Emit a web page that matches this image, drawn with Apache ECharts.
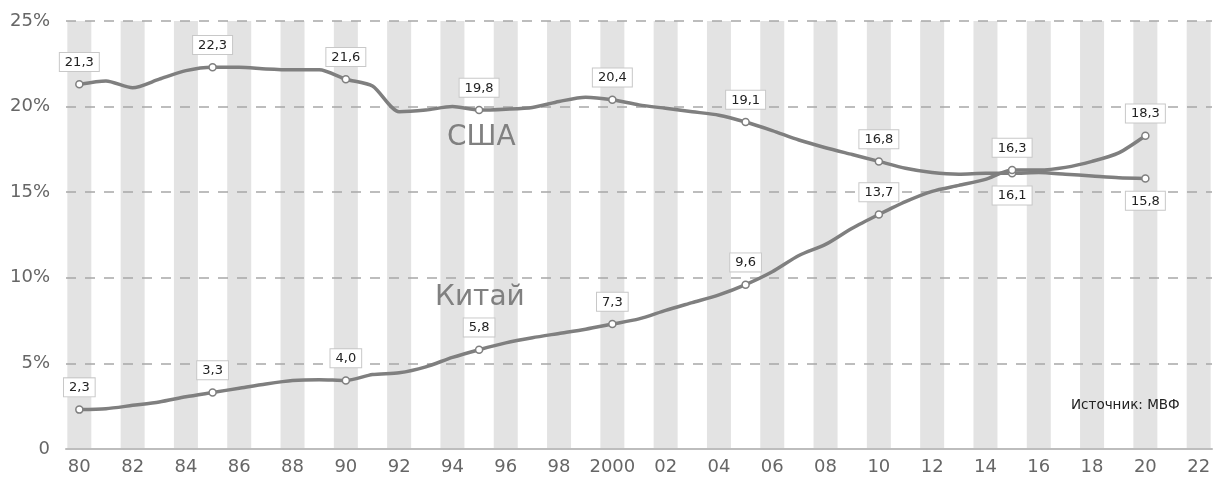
<!DOCTYPE html>
<html>
<head>
<meta charset="utf-8">
<script src="https://cdn.jsdelivr.net/npm/echarts@6/dist/echarts.min.js"></script>
<style>
  html, body { margin: 0; padding: 0; background: #fff; }
  #chart { width: 1214px; height: 477px; }
</style>
</head>
<body>
<div id="chart"></div>
<script>
// years 1980..2022, labels as printed under the axis
const years = ['80', '81', '82', '83', '84', '85', '86', '87', '88', '89',
  '90', '91', '92', '93', '94', '95', '96', '97', '98', '99',
  '2000', '01', '02', '03', '04', '05', '06', '07', '08', '09',
  '10', '11', '12', '13', '14', '15', '16', '17', '18', '19',
  '20', '21', '22']

// share of world GDP (PPP), %, 1980..2020
const usa = [21.3, 21.5, 21.1, 21.6, 22.1, 22.3, 22.3, 22.2, 22.15, 22.15,
  21.6, 21.2, 19.7, 19.8, 20.0, 19.8, 19.85, 19.95, 20.3, 20.55,
  20.4, 20.1, 19.9, 19.7, 19.5, 19.1, 18.6, 18.05, 17.6, 17.2,
  16.8, 16.4, 16.15, 16.05, 16.1, 16.1, 16.15, 16.05, 15.95, 15.85,
  15.8]
const china = [2.3, 2.35, 2.55, 2.75, 3.05, 3.3, 3.55, 3.8, 4.0, 4.05,
  4.0, 4.35, 4.45, 4.8, 5.35, 5.8, 6.2, 6.5, 6.75, 7.0,
  7.3, 7.6, 8.1, 8.55, 9.0, 9.6, 10.35, 11.3, 11.95, 12.9,
  13.7, 14.45, 15.05, 15.4, 15.75, 16.3, 16.3, 16.45, 16.8, 17.3,
  18.3]

// points that carry a boxed value label
const labeledIdx = [0, 5, 10, 15, 20, 25, 30, 35, 40]
const usaBelow = [35, 40]

const LINE = '#7f7f7f'
const FONT = 'DejaVu Sans'

function fmt (v) {
  return v.toFixed(1).replace('.', ',')
}

function points (values, below) {
  return values.map((v, i) => {
    if (labeledIdx.indexOf(i) < 0) return { value: v, symbolSize: 0 }
    return {
      value: v,
      symbolSize: 7,
      label: {
        show: true,
        position: below.indexOf(i) >= 0 ? 'bottom' : 'top',
        distance: 9
      }
    }
  })
}

const labelBox = {
  show: false,
  formatter: p => fmt(p.value),
  fontFamily: FONT,
  fontSize: 13,
  color: '#222',
  backgroundColor: '#fff',
  borderColor: '#c8c8c8',
  borderWidth: 1,
  padding: [3, 5, 2, 5]
}

// gray stripe behind every even year
const stripes = years.map((y, i) => (i % 2 === 0 ? 25 : '-'))

const chart = echarts.init(document.getElementById('chart'))
chart.setOption({
  animation: false,
  textStyle: { fontFamily: FONT },
  grid: { left: 66, right: 2, top: 21, bottom: 28 },
  xAxis: {
    type: 'category',
    data: years,
    boundaryGap: true,
    axisLine: { lineStyle: { color: '#bdbdbd', width: 2 } },
    axisTick: { show: false },
    axisLabel: {
      interval: 1,
      color: '#666',
      fontSize: 18,
      margin: 9
    }
  },
  yAxis: {
    type: 'value',
    min: 0,
    max: 25,
    interval: 5,
    axisLine: { show: false },
    axisTick: { show: false },
    axisLabel: {
      color: '#666',
      fontSize: 18,
      margin: 16,
      formatter: v => (v === 0 ? '0' : v + '%')
    },
    splitLine: {
      lineStyle: { color: '#a8a8a8', width: 1.5, type: [10, 9] }
    }
  },
  graphic: [
    {
      type: 'text',
      left: 447,
      top: 124,
      style: { text: 'США', font: '28px "DejaVu Sans"', fill: '#808080' }
    },
    {
      type: 'text',
      left: 435,
      top: 284,
      style: { text: 'Китай', font: '28px "DejaVu Sans"', fill: '#808080' }
    },
    {
      type: 'text',
      left: 1071,
      top: 398,
      style: { text: 'Источник: МВФ', font: '13.5px "DejaVu Sans"', fill: '#222' }
    }
  ],
  series: [
    {
      name: 'stripes',
      type: 'bar',
      data: stripes,
      barWidth: 24,
      z: -1,
      silent: true,
      itemStyle: { color: '#e3e3e3' },
      emphasis: { disabled: true }
    },
    {
      name: 'США',
      type: 'line',
      data: points(usa, usaBelow),
      smooth: 0.25,
      symbol: 'circle',
      lineStyle: { color: LINE, width: 3.5 },
      itemStyle: { color: '#fff', borderColor: LINE, borderWidth: 1.5 },
      label: labelBox,
      z: 3
    },
    {
      name: 'Китай',
      type: 'line',
      data: points(china, []),
      smooth: 0.25,
      symbol: 'circle',
      lineStyle: { color: LINE, width: 3.5 },
      itemStyle: { color: '#fff', borderColor: LINE, borderWidth: 1.5 },
      label: labelBox,
      z: 3
    }
  ]
})
</script>
</body>
</html>
